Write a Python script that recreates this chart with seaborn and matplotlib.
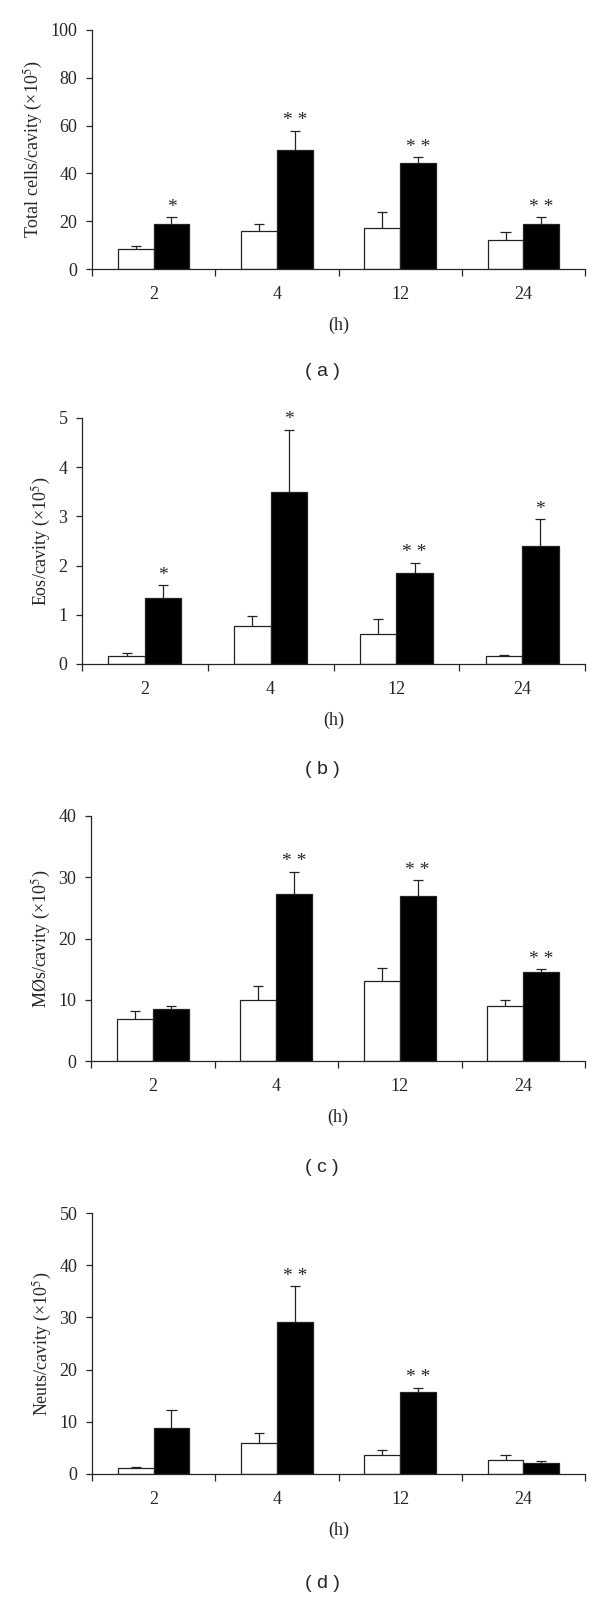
import numpy as np
import pandas as pd
import seaborn as sns
import matplotlib.pyplot as plt

# ===============================
# Data (x10^5 cells / cavity)
# ===============================
HOURS = ["2", "4", "12", "24"]
GROUPS = ["Control", "Treated"]

TOTAL_CTRL = [8.2, 15.9, 17.3, 12.2]
TOTAL_CTRL_ERR = [1.4, 3.0, 6.4, 3.3]
TOTAL_TRT = [18.9, 49.7, 44.4, 18.9]
TOTAL_TRT_ERR = [2.7, 8.1, 2.5, 2.7]
TOTAL_STARS = ["*", "* *", "* *", "* *"]

EOS_CTRL = [0.16, 0.77, 0.60, 0.16]
EOS_CTRL_ERR = [0.07, 0.21, 0.31, 0.02]
EOS_TRT = [1.34, 3.50, 1.85, 2.40]
EOS_TRT_ERR = [0.26, 1.26, 0.21, 0.54]
EOS_STARS = ["*", "*", "* *", "*"]

MAC_CTRL = [6.8, 9.9, 13.1, 9.0]
MAC_CTRL_ERR = [1.4, 2.4, 2.1, 0.9]
MAC_TRT = [8.5, 27.2, 26.9, 14.5]
MAC_TRT_ERR = [0.5, 3.7, 2.6, 0.5]
MAC_STARS = ["", "* *", "* *", "* *"]

NEU_CTRL = [1.2, 5.9, 3.6, 2.75]
NEU_CTRL_ERR = [0.15, 2.0, 1.0, 0.9]
NEU_TRT = [8.9, 29.2, 15.7, 2.1]
NEU_TRT_ERR = [3.3, 6.8, 0.8, 0.4]
NEU_STARS = ["", "* *", "* *", ""]

sns.set_style("ticks")
plt.rcParams["font.family"] = ["Liberation Serif", "DejaVu Serif"]
plt.rcParams["mathtext.fontset"] = "stix"
plt.rcParams["axes.linewidth"] = 0.9

FIG_H = 1599.0
FS = 13


def frac(top_px, bottom_px):
    return 1 - bottom_px / FIG_H, (bottom_px - top_px) / FIG_H


def draw_panel(ax, ctrl, ctrl_err, trt, trt_err, stars, ymax, ystep, ylabel):
    df = pd.DataFrame({
        "hour": HOURS * 2,
        "group": [GROUPS[0]] * len(HOURS) + [GROUPS[1]] * len(HOURS),
        "value": ctrl + trt,
    })
    sns.barplot(data=df, x="hour", y="value", hue="group", order=HOURS,
                hue_order=GROUPS, palette=["white", "black"], saturation=1,
                edgecolor="#222222", linewidth=0.9, width=0.58,
                errorbar=None, legend=False, ax=ax)

    # upper-only error bars with a top cap
    for container, err, st in zip(ax.containers, [ctrl_err, trt_err],
                                  [None, stars]):
        for i, bar in enumerate(container):
            xc = bar.get_x() + bar.get_width() / 2
            y0 = bar.get_height()
            y1 = y0 + err[i]
            cap = bar.get_width() * 0.14
            ax.vlines(xc, y0, y1, color="#222222", lw=0.9, zorder=1)
            ax.hlines(y1, xc - cap, xc + cap, color="#222222", lw=0.9, zorder=1)
            if st and st[i]:
                ax.annotate(st[i], (xc, y1), xytext=(0, 1),
                            textcoords="offset points", ha="center",
                            va="bottom", fontsize=14)

    ax.set_ylim(0, ymax)
    ax.set_yticks(np.arange(0, ymax + ystep / 2, ystep))
    ax.set_xlim(-0.5, len(HOURS) - 0.5)
    ax.set_xticks(np.arange(-0.5, len(HOURS), 1.0))
    ax.set_xticklabels([])
    ax.set_xticks(np.arange(len(HOURS)), minor=True)
    ax.set_xticklabels(HOURS, minor=True)
    ax.tick_params(axis="x", which="major", direction="out", length=5, width=0.9)
    ax.tick_params(axis="x", which="minor", length=0, pad=12, labelsize=FS)
    ax.tick_params(axis="y", direction="out", length=4.5, width=0.9, pad=6,
                   labelsize=FS)
    ax.set_xlabel("(h)", fontsize=FS, labelpad=10)
    ax.set_ylabel(ylabel, fontsize=FS, labelpad=4)
    sns.despine(ax=ax)


fig = plt.figure(figsize=(6.0, 15.99), dpi=100)

panels = [
    (92, 30, 269, TOTAL_CTRL, TOTAL_CTRL_ERR, TOTAL_TRT, TOTAL_TRT_ERR,
     TOTAL_STARS, 100, 20, r"Total cells/cavity (×10$^{5}$)", "( a )", 372),
    (82, 418, 664, EOS_CTRL, EOS_CTRL_ERR, EOS_TRT, EOS_TRT_ERR,
     EOS_STARS, 5, 1, r"Eos/cavity (×10$^{5}$)", "( b )", 770),
    (91, 816, 1061, MAC_CTRL, MAC_CTRL_ERR, MAC_TRT, MAC_TRT_ERR,
     MAC_STARS, 40, 10, r"MØs/cavity (×10$^{5}$)", "( c )", 1167),
    (92, 1213, 1474, NEU_CTRL, NEU_CTRL_ERR, NEU_TRT, NEU_TRT_ERR,
     NEU_STARS, 50, 10, r"Neuts/cavity (×10$^{5}$)", "( d )", 1583),
]

for (left, top, bottom, c, ce, t, te, st, ymax, ystep, ylab, tag, tag_y) in panels:
    b, h = frac(top, bottom)
    ax = fig.add_axes([left / 600, b, (585 - left) / 600, h])
    draw_panel(ax, c, ce, t, te, st, ymax, ystep, ylab)
    fig.text(322 / 600, 1 - tag_y / FIG_H, tag, ha="center", va="center",
             fontsize=14, family=["Liberation Sans", "DejaVu Sans"])

fig.savefig("out.png", dpi=100, facecolor="white")
